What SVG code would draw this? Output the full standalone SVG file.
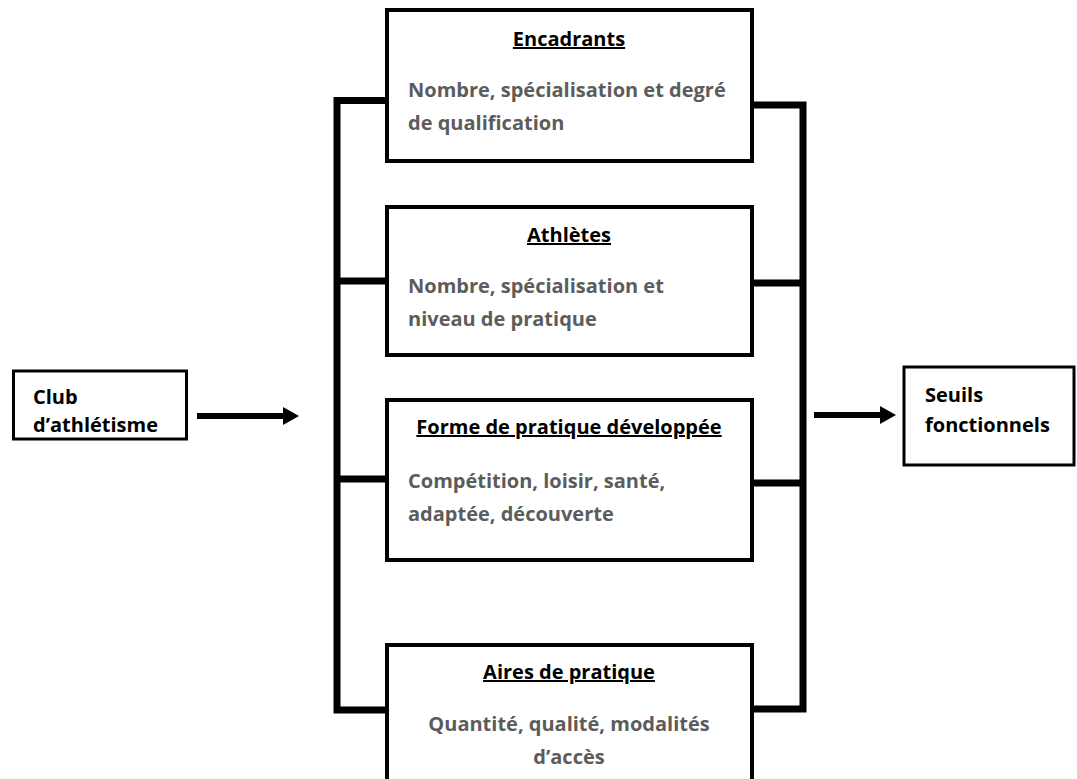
<svg xmlns="http://www.w3.org/2000/svg" width="1077" height="779" viewBox="0 0 1077 779">
<style>
.box{fill:#fff;stroke:#000;stroke-width:4}
.sbox{fill:#fff;stroke:#000;stroke-width:3}
.bus{fill:none;stroke:#000;stroke-width:7;stroke-linejoin:miter;stroke-linecap:butt}
.t{font-family:"Open Sans","Noto Sans",sans-serif;font-weight:700;font-size:20px}
.title{fill:#000;text-decoration:underline;text-anchor:middle}
.body{fill:#5c5c5c}
.lbl{fill:#000}
.arr{stroke:#000;stroke-width:6}
</style>
<defs>
<marker id="ah" markerUnits="userSpaceOnUse" markerWidth="16" markerHeight="18" refX="0" refY="9" orient="auto">
<path d="M0,0 L16,9 L0,18 Z" fill="#000"/>
</marker>
</defs>
<g id="connectors">
<path class="bus" d="M387,100.5 H337 V710 H387"/>
<path class="bus" d="M337,281 H387"/>
<path class="bus" d="M337,479 H387"/>
<path class="bus" d="M752,105 H803 V709 H752"/>
<path class="bus" d="M803,283 H752"/>
<path class="bus" d="M803,483 H752"/>
<line class="arr" x1="197" y1="416" x2="283" y2="416" marker-end="url(#ah)"/>
<line class="arr" x1="814" y1="415" x2="880" y2="415" marker-end="url(#ah)"/>
</g>
<g id="club">
<rect class="sbox" x="13.5" y="371" width="173" height="68"/>
<text class="t lbl" x="33" y="404">Club</text>
<text class="t lbl" x="33" y="432">d’athlétisme</text>
</g>
<g id="seuils">
<rect class="sbox" x="904" y="367" width="170" height="98"/>
<text class="t lbl" x="925" y="402">Seuils</text>
<text class="t lbl" x="925" y="432">fonctionnels</text>
</g>
<g id="encadrants">
<rect class="box" x="387" y="10" width="365" height="151"/>
<text class="t title" x="569" y="46">Encadrants</text>
<text class="t body" x="408" y="97">Nombre, spécialisation et degré</text>
<text class="t body" x="408" y="130">de qualification</text>
</g>
<g id="athletes">
<rect class="box" x="387" y="207" width="365" height="148"/>
<text class="t title" x="569" y="242">Athlètes</text>
<text class="t body" x="408" y="293">Nombre, spécialisation et</text>
<text class="t body" x="408" y="326">niveau de pratique</text>
</g>
<g id="forme">
<rect class="box" x="387" y="400" width="365" height="160"/>
<text class="t title" x="569" y="434">Forme de pratique développée</text>
<text class="t body" x="408" y="488">Compétition, loisir, santé,</text>
<text class="t body" x="408" y="521">adaptée, découverte</text>
</g>
<g id="aires">
<rect class="box" x="387" y="645" width="365" height="150"/>
<text class="t title" x="569" y="679">Aires de pratique</text>
<text class="t body" x="569" y="731" text-anchor="middle">Quantité, qualité, modalités</text>
<text class="t body" x="569" y="764" text-anchor="middle">d’accès</text>
</g>
</svg>
